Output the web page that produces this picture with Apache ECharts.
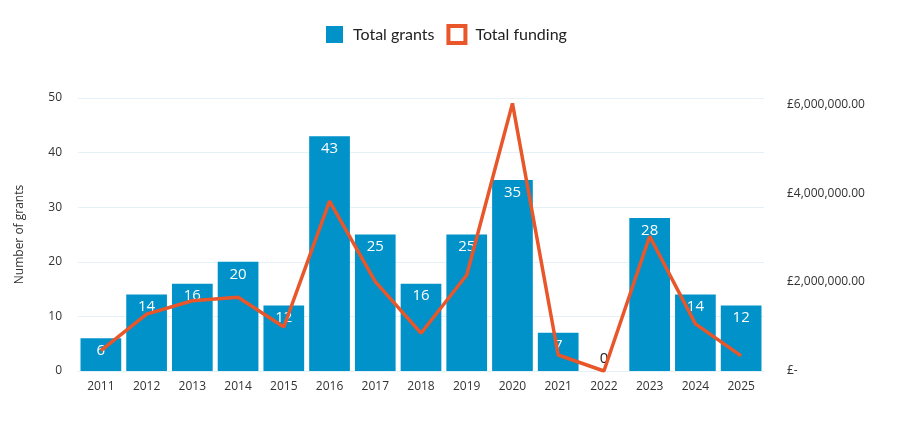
<!DOCTYPE html>
<html>
<head>
<meta charset="utf-8">
<script src="https://cdn.jsdelivr.net/npm/echarts@6/dist/echarts.min.js"></script>
<style>html,body{margin:0;padding:0;background:#fff;}#c{width:903px;height:422px;}</style>
</head>
<body>
<div id="c"></div>
<script>
const years = ['2011','2012','2013','2014','2015','2016','2017','2018','2019','2020','2021','2022','2023','2024','2025'];
const totalGrants = [6,14,16,20,12,43,25,16,25,35,7,0,28,14,12];
const totalFunding = [460000,1280000,1580000,1660000,990000,3820000,2010000,850000,2160000,6020000,360000,0,3030000,1060000,340000];
const leftTicks = [0,10,20,30,40,50];
const rightTickLabels = {0:'£-',2000000:'£2,000,000.00',4000000:'£4,000,000.00',6000000:'£6,000,000.00'};

const chart = echarts.init(document.getElementById('c'));
const font = 'Open Sans';
chart.setOption({
  animation: false,
  textStyle: {fontFamily: font},
  legend: {
    top: 19, left: 321, itemGap: 12,
    itemWidth: 17, itemHeight: 17,
    textStyle: {fontFamily: 'Lato', fontSize: 16, color: '#222', padding: [0, 0, 0, 5]},
    data: [
      {name: 'Total grants', icon: 'rect', itemStyle: {color: '#0092C8', borderWidth: 0}},
      {name: 'Total funding', icon: 'rect', itemStyle: {color: '#fff', borderColor: '#E8562A', borderWidth: 4}}
    ]
  },
  grid: {left: 78, right: 139, top: 98, bottom: 51},
  xAxis: {
    type: 'category', data: years,
    axisTick: {show: false},
    axisLine: {lineStyle: {color: '#E4F1F8'}},
    axisLabel: {color: '#333', fontSize: 12, margin: 10, fontFamily: font}
  },
  yAxis: [
    {
      type: 'value', min: leftTicks[0], max: leftTicks[leftTicks.length-1], interval: 10,
      name: 'Number of grants', nameLocation: 'middle', nameGap: 52, nameRotate: 90,
      nameTextStyle: {color: '#333', fontSize: 12, fontFamily: font},
      axisLine: {show: false}, axisTick: {show: false},
      axisLabel: {color: '#333', fontSize: 12, margin: 16},
      splitLine: {lineStyle: {color: '#E4F1F8'}}
    },
    {
      type: 'value', min: 0, max: 6140000, interval: 2000000,
      axisLine: {show: false}, axisTick: {show: false},
      splitLine: {show: false},
      axisLabel: {color: '#333', fontSize: 12, margin: 23, align: 'left', showMaxLabel: false,
        formatter: v => rightTickLabels[v] !== undefined ? rightTickLabels[v] : ''}
    }
  ],
  series: [
    {
      name: 'Total grants', type: 'bar', yAxisIndex: 0, barCategoryGap: '11%',
      itemStyle: {color: '#0092C8'},
      label: {show: true, position: 'insideTop', color: '#fff', fontSize: 15, distance: 5, fontFamily: font},
      data: totalGrants.map(v => v === 0 ? {value: v, label: {position: 'top', color: '#222'}} : v),
      z: 2
    },
    {
      name: 'Total funding', type: 'line', yAxisIndex: 1,
      showSymbol: false, symbol: 'none',
      lineStyle: {color: '#E8562A', width: 3.5},
      itemStyle: {color: '#E8562A'},
      data: totalFunding,
      z: 3
    }
  ]
});
</script>
</body>
</html>
